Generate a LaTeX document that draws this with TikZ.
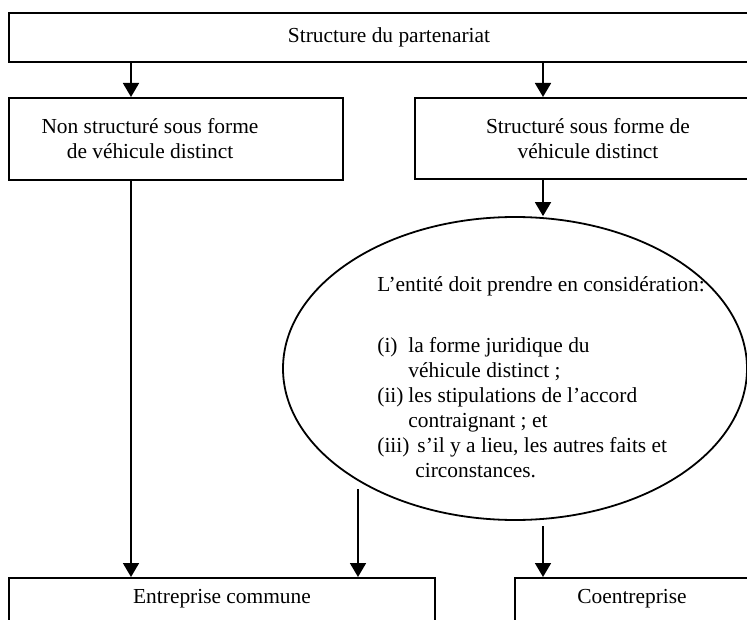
\documentclass[tikz,border=0pt]{standalone}
\usepackage{fontspec}
\setmainfont{Liberation Serif}
\usetikzlibrary{shapes.geometric, arrows.meta, positioning}

\begin{document}
\begin{tikzpicture}[
  x=0.5pt, y=-0.5pt,
  every node/.style={font=\fontsize{10.7pt}{12.5pt}\selectfont},
  box/.style={rectangle, draw=black, line width=1pt, inner sep=0pt,
              align=center},
  choice/.style={ellipse, draw=black, line width=0.9pt, inner sep=0pt,
                 minimum width=232pt, minimum height=151.5pt},
  arr/.style={-{Triangle[length=7pt, width=8pt]}, line width=0.9pt},
  lbl/.style={inner sep=0pt, align=left}
]
\useasboundingbox (0,0) rectangle (747,619);
\clip (0,0) rectangle (747,619);
% Top
\node[box, line width=1.3pt, minimum width=380pt, minimum height=24.5pt]
      (partner) at (389,37.5) {Structure du partenariat};
% Branches
\node[box, minimum width=167pt, minimum height=41pt,
      label={[lbl, align=center, xshift=-13pt]center:Non structuré sous forme\\de véhicule distinct}]
      (nonstruct) at (176,139) {};
\node[box, minimum width=173pt, minimum height=40.5pt]
      (struct) at (588,138.5) {Structuré sous forme de\\véhicule distinct};
% Ellipse
\node[choice] (consid) at (515,368.5) {};
\node[lbl, anchor=north west] (considtxt) at (377,276)
      {L’entité doit prendre en considération:\\[18pt]
       \makebox[15.5pt][l]{(i)}la forme juridique du\\
       \hspace*{15.5pt}véhicule distinct ;\\
       \makebox[15.5pt][l]{(ii)}les stipulations de l’accord\\
       \hspace*{15.5pt}contraignant ; et\\
       (iii)\hspace{4pt}s’il y a lieu, les autres faits et\\
       \hspace*{19pt}circonstances.};
% Outcomes
\node[box, anchor=north, minimum width=213pt, text height=8pt,
      text depth=20pt, inner ysep=4.5pt] (joint) at (222,577) {Entreprise commune};
\node[box, anchor=north, minimum width=117pt, text height=8pt,
      text depth=20pt, inner ysep=4.5pt] (coent) at (632,577) {Coentreprise};
% Columns
\coordinate (lcol) at (131,0);
\coordinate (rcol) at (543,0);
\coordinate (out1) at (358,489);
\coordinate (out2) at (543,526);
% Arrows
\draw[arr] (partner.south -| lcol) -- (nonstruct.north -| lcol);
\draw[arr] (partner.south -| rcol) -- (struct.north -| rcol);
\draw[arr] (nonstruct.south -| lcol) -- (joint.north -| lcol);
\draw[arr] (struct.south -| rcol) -- (consid.north -| rcol);
\draw[arr] (out1) -- (joint.north -| out1);
\draw[arr] (out2) -- (coent.north -| out2);
\end{tikzpicture}
\end{document}
